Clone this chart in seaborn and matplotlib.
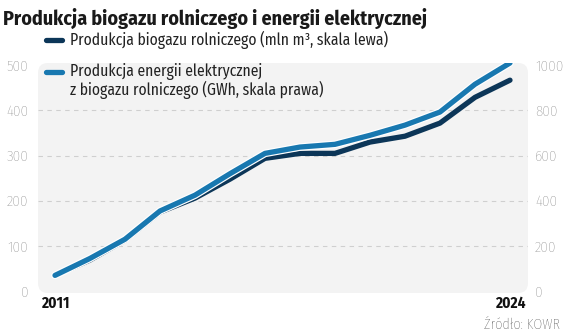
import matplotlib
matplotlib.use("Agg")
import matplotlib.pyplot as plt
import matplotlib.patheffects as pe
from matplotlib.patches import FancyBboxPatch
from matplotlib.lines import Line2D
import seaborn as sns
import pandas as pd

years = list(range(2011, 2025))
biogas_mln_m3 = [35, 69, 113, 175, 206, 248, 294, 305, 305, 330, 343, 372, 429, 467]
energy_gwh = [70, 145, 230, 355, 425, 520, 610, 638, 650, 690, 735, 793, 916, 1010]
left_ticks = [0, 100, 200, 300, 400, 500]
right_ticks = [0, 200, 400, 600, 800, 1000]

title = "Produkcja biogazu rolniczego i energii elektrycznej"
label1 = "Produkcja biogazu rolniczego (mln m³, skala lewa)"
label2a = "Produkcja energii elektrycznej"
label2b = "z biogazu rolniczego (GWh, skala prawa)"
source = "Źródło: KOWR"

sns.set_theme(style="white")
FONT = "Fira Sans Condensed"
plt.rcParams["font.family"] = [FONT, "DejaVu Sans"]

DARK = "#0c3658"
LIGHT = "#1878b0"
GRAY = "#7a7a7a"

df = pd.DataFrame({"year": years, "biogas": biogas_mln_m3, "energy": energy_gwh})

fig = plt.figure(figsize=(5.64, 3.34), dpi=100)
L, R, B, T = 38 / 564, 528 / 564, 1 - 293 / 334, 1 - 63 / 334
ax = fig.add_axes([L, B, R - L, T - B])
ax.patch.set_visible(False)
bg = FancyBboxPatch((0, 0), 1, 1, boxstyle="round,pad=0,rounding_size=0.02",
                    mutation_aspect=2.15, transform=ax.transAxes,
                    facecolor="#f3f3f3", edgecolor="none", zorder=-10)
ax.add_patch(bg)

sns.lineplot(data=df, x="year", y="biogas", ax=ax, color=DARK, linewidth=3.8,
             solid_capstyle="round", solid_joinstyle="round")
ax2 = ax.twinx()
ax2.patch.set_visible(False)
sns.lineplot(data=df, x="year", y="energy", ax=ax2, color=LIGHT, linewidth=3.8,
             solid_capstyle="round", solid_joinstyle="round",
             path_effects=[pe.Stroke(linewidth=5.5, foreground="white"), pe.Normal()])

ax.set_xlim(2011 - 17 / 35, 2024 + 18 / 35)
ax.set_ylim(-4, 505)
ax2.set_ylim(-8, 1010)
ax.set_yticks(left_ticks)
ax2.set_yticks(right_ticks)
ax.set_xticks([2011, 2024])
ax.set_xticklabels(["2011", "2024"], fontsize=11, fontweight="bold", color="#111111")
ax.set_yticklabels([str(v) for v in left_ticks], fontsize=11, fontweight="light", color=GRAY)
ax2.set_yticklabels([str(v) for v in right_ticks], fontsize=11, fontweight="light", color=GRAY)
ax.tick_params(axis="both", length=0)
ax2.tick_params(axis="both", length=0)
ax.tick_params(axis="y", pad=7)
ax2.tick_params(axis="y", pad=5)
ax.tick_params(axis="x", pad=2)
for a in (ax, ax2):
    a.set_xlabel("")
    a.set_ylabel("")
    for s in a.spines.values():
        s.set_visible(False)
for v in left_ticks[1:-1]:
    ax.axhline(v, color="#cfcfcf", linewidth=0.8, linestyle=(0, (4, 4)), zorder=-5)

texts = []
t_title = fig.text(3 / 564, 1 - 18 / 334, title, fontsize=15, fontweight="bold",
                   color="#1a1a1a", va="center", ha="left")
texts.append((t_title, 425))

for (y, col) in [(40, DARK), (72, LIGHT)]:
    yf = 1 - y / 334
    fig.add_artist(Line2D([46 / 564, 62 / 564], [yf, yf], color=col, linewidth=3.8,
                          solid_capstyle="round", transform=fig.transFigure))
t1 = fig.text(70 / 564, 1 - 40 / 334, label1, fontsize=11, color="#222222", va="center", ha="left")
t2 = fig.text(70 / 564, 1 - 72 / 334, label2a, fontsize=11, color="#222222", va="center", ha="left")
t3 = fig.text(70 / 564, 1 - 90 / 334, label2b, fontsize=11, color="#222222", va="center", ha="left")
texts += [(t1, 319), (t3, 260)]

t_src = fig.text(560 / 564, 1 - 325 / 334, source, fontsize=10, fontweight="light",
                 color="#333333", ha="right", va="center")
texts.append((t_src, 76))

fig.canvas.draw()
r = fig.canvas.get_renderer()
for t, w in texts:
    cur = t.get_window_extent(r).width
    t.set_fontsize(t.get_fontsize() * w / cur)
t2.set_fontsize(t1.get_fontsize())
t3.set_fontsize(t1.get_fontsize())

fig.savefig("out.png", dpi=100)
